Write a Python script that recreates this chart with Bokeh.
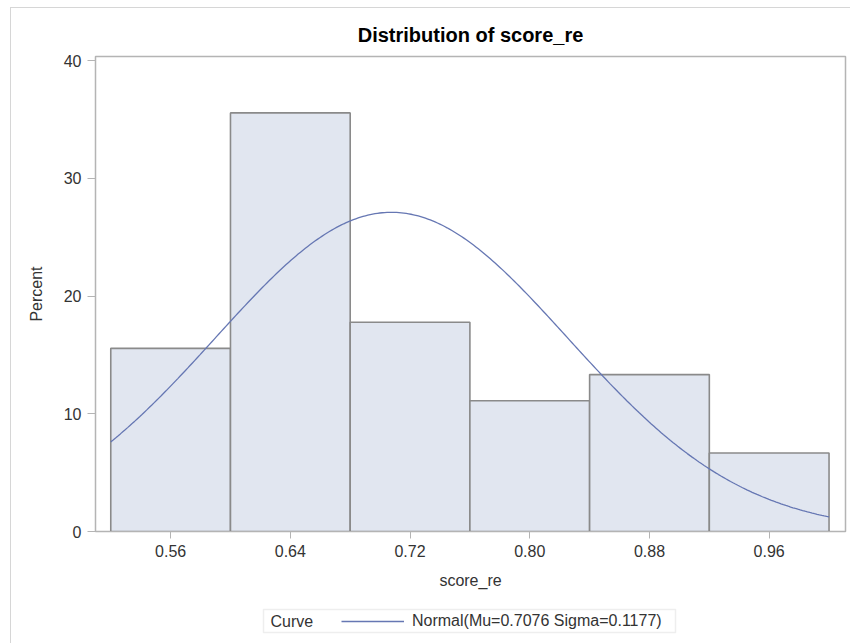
import numpy as np
from bokeh.plotting import figure
from bokeh.layouts import column
from bokeh.models import (FixedTicker, Range1d, Legend, LegendItem, BoxAnnotation,
                          Label, Title, ColumnDataSource, NumeralTickFormatter)
from bokeh.embed import file_html
from bokeh.resources import INLINE

# ---- data ----
bin_mids = [0.56, 0.64, 0.72, 0.80, 0.88, 0.96]
bin_width = 0.08
percents = [15.56, 35.56, 17.78, 11.11, 13.33, 6.67]
mu = 0.7076
sigma = 0.1177
x_ticks = [0.56, 0.64, 0.72, 0.80, 0.88, 0.96]
y_ticks = [0, 10, 20, 30, 40]

FONT = "Liberation Sans"
TEXT = "#333333"
GRAY = "#b4b4b4"
CURVE_COLOR = "#6677b3"

lefts = [m - bin_width / 2 for m in bin_mids]
rights = [m + bin_width / 2 for m in bin_mids]
src = ColumnDataSource(dict(left=lefts, right=rights, top=percents, bottom=[0] * len(percents)))

# fitted normal curve, scaled to percent per bin
xs = np.linspace(min(lefts), max(rights), 300)
ys = 100 * bin_width * np.exp(-0.5 * ((xs - mu) / sigma) ** 2) / (sigma * np.sqrt(2 * np.pi))

p = figure(width=839, height=592, output_backend="svg", toolbar_location=None,
           x_range=Range1d(0.5098, 1.0110), y_range=Range1d(0, 40.35),
           min_border_left=84, min_border_right=5, min_border_top=48, min_border_bottom=69)

p.title = Title(text="Distribution of score_re", align="center", text_font=FONT,
                text_font_size="20px", text_font_style="bold", text_color="#000000", standoff=22)

p.quad(left="left", right="right", top="top", bottom="bottom", source=src,
       fill_color="#e1e6f0", line_color="#8a8a8a", line_width=1.6)
curve = p.line(xs, ys, line_color=CURVE_COLOR, line_width=1.3)

p.xgrid.visible = False
p.ygrid.visible = False
p.outline_line_color = GRAY
p.outline_line_width = 1.5
p.background_fill_color = "white"

for ax in (p.xaxis[0], p.yaxis[0]):
    ax.axis_line_color = GRAY
    ax.major_tick_line_color = GRAY
    ax.minor_tick_line_color = None
    ax.major_tick_in = 0
    ax.major_label_text_font = FONT
    ax.major_label_text_font_size = "16px"
    ax.major_label_text_color = TEXT
    ax.axis_label_text_font = FONT
    ax.axis_label_text_font_size = "16px"
    ax.axis_label_text_font_style = "normal"
    ax.axis_label_text_color = TEXT

p.xaxis.major_tick_out = 7
p.yaxis.major_tick_out = 8
p.xaxis.major_label_standoff = 6
p.yaxis.major_label_standoff = 6
p.xaxis.ticker = FixedTicker(ticks=x_ticks)
p.xaxis.formatter = NumeralTickFormatter(format="0.00")
p.yaxis.ticker = FixedTicker(ticks=y_ticks)
p.xaxis.axis_label = "score_re"
p.yaxis.axis_label = "Percent"
p.xaxis.axis_label_standoff = 12
p.yaxis.axis_label_standoff = 16

# ---- legend strip (its frame is aligned with the main frame: page x 95..845, y 600..643) ----
p2 = figure(width=839, height=43, output_backend="svg", toolbar_location=None,
            x_range=Range1d(95, 845), y_range=Range1d(643, 600),
            x_axis_location=None, y_axis_location=None,
            min_border_left=84, min_border_right=5, min_border_top=0, min_border_bottom=0)
p2.xgrid.visible = False
p2.ygrid.visible = False
p2.outline_line_color = None
legend_line = p2.line(x=[0, 1], y=[0, 0], line_color=CURVE_COLOR, line_width=1.3)

p2.add_layout(BoxAnnotation(left=263, right=675, top=609, bottom=632,
                            fill_alpha=0, line_color="#c8c8c8", line_width=1.5))
p2.add_layout(Label(x=270, y=620.5, text="Curve", text_font=FONT, text_font_size="16px",
                    text_color=TEXT, text_baseline="middle", text_align="left"))
leg = Legend(items=[LegendItem(label=f"Normal(Mu={mu} Sigma={sigma})", renderers=[legend_line])],
             location=(246, 12.5), orientation="horizontal", border_line_color=None,
             background_fill_alpha=0, padding=0, margin=0, glyph_width=63, glyph_height=20,
             label_height=20, label_standoff=8, label_text_font=FONT,
             label_text_font_size="16px", label_text_color=TEXT)
p2.add_layout(leg, "center")

layout = column(p, p2, spacing=0, margin=(7, 0, 0, 10),
                styles={"border-left": "1px solid #d6d6d6", "border-top": "1px solid #d6d6d6"})

open("out.html", "w").write(file_html(layout, INLINE))
